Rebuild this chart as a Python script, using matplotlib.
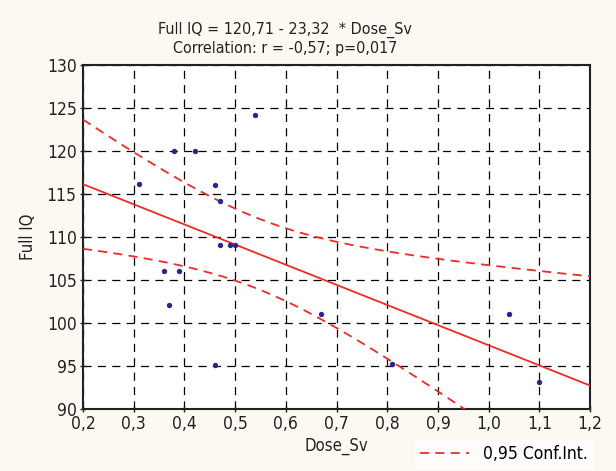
import matplotlib
matplotlib.use("Agg")
import matplotlib.pyplot as plt
from matplotlib.ticker import FuncFormatter, MultipleLocator
import numpy as np

# data
dose_sv = [0.31, 0.38, 0.42, 0.54, 0.46, 0.47, 0.47, 0.49, 0.50,
           0.36, 0.39, 0.37, 0.46, 0.67, 0.81, 1.04, 1.10]
full_iq = [116.2, 120.0, 120.0, 124.2, 116.1, 114.2, 109.1, 109.1, 109.1,
           106.1, 106.1, 102.1, 95.1, 101.0, 95.2, 101.0, 93.1]
t_975 = 2.131  # t(0.975, df=15)

bg = '#fcf9f2'
red = '#ee2a2a'
navy = '#26288a'
ink = '#222222'
plt.rcParams['font.family'] = ['DejaVu Sans']
plt.rcParams['font.stretch'] = 'condensed'

x = np.array(dose_sv)
y = np.array(full_iq)
n = len(x)
slope, icpt = np.polyfit(x, y, 1)
resid = y - (icpt + slope * x)
s = np.sqrt(np.sum(resid ** 2) / (n - 2))
sxx = np.sum((x - x.mean()) ** 2)

xs = np.linspace(0.2, 1.2, 200)
fit = icpt + slope * xs
hw = t_975 * s * np.sqrt(1.0 / n + (xs - x.mean()) ** 2 / sxx)

fig = plt.figure(figsize=(6.16, 4.71), dpi=100)
fig.patch.set_facecolor(bg)
ax = fig.add_axes([0.1347, 0.1316, 0.8233, 0.7304])
ax.set_facecolor('white')

ax.grid(True, color='black', linestyle=(0, (6.5, 5)), linewidth=0.9)
ax.set_axisbelow(True)

ax.plot(xs, fit, color=red, lw=1.3, zorder=3)
ax.plot(xs, fit + hw, color=red, lw=1.3, ls=(0, (5, 3.5)), zorder=3,
        label='0,95 Conf.Int.')
ax.plot(xs, fit - hw, color=red, lw=1.3, ls=(0, (5, 3.5)), zorder=3)
ax.scatter(x, y, s=15, color=navy, zorder=4, linewidths=0)

ax.set_xlim(0.2, 1.2)
ax.set_ylim(90, 130)
ax.xaxis.set_major_locator(MultipleLocator(0.1))
ax.yaxis.set_major_locator(MultipleLocator(5))
ax.xaxis.set_major_formatter(FuncFormatter(lambda v, p: f"{v:.1f}".replace('.', ',')))
ax.tick_params(direction='inout', length=5, width=1, labelsize=12.5,
               colors=ink, pad=2)
for sp in ax.spines.values():
    sp.set_linewidth(1.5)
    sp.set_color(ink)

ax.set_xlabel('Dose_Sv', fontsize=12, color=ink, labelpad=3)
ax.set_ylabel('Full IQ', fontsize=12, color=ink, labelpad=7)

fig.text(0.463, 0.936, "Full IQ = 120,71 - 23,32  * Dose_Sv",
         fontsize=11.5, color=ink, ha='center', va='center')
fig.text(0.463, 0.896, "Correlation: r = -0,57; p=0,017",
         fontsize=11.5, color=ink, ha='center', va='center')

leg = fig.legend(loc='lower right', bbox_to_anchor=(0.962, 0.006),
                 frameon=True, fontsize=12.5, handlelength=2.8,
                 borderpad=0.3, borderaxespad=0, handletextpad=0.8,
                 fancybox=False)
leg.get_frame().set_edgecolor('white')
leg.get_frame().set_facecolor('white')

fig.savefig('out.png', dpi=100, facecolor=bg)
